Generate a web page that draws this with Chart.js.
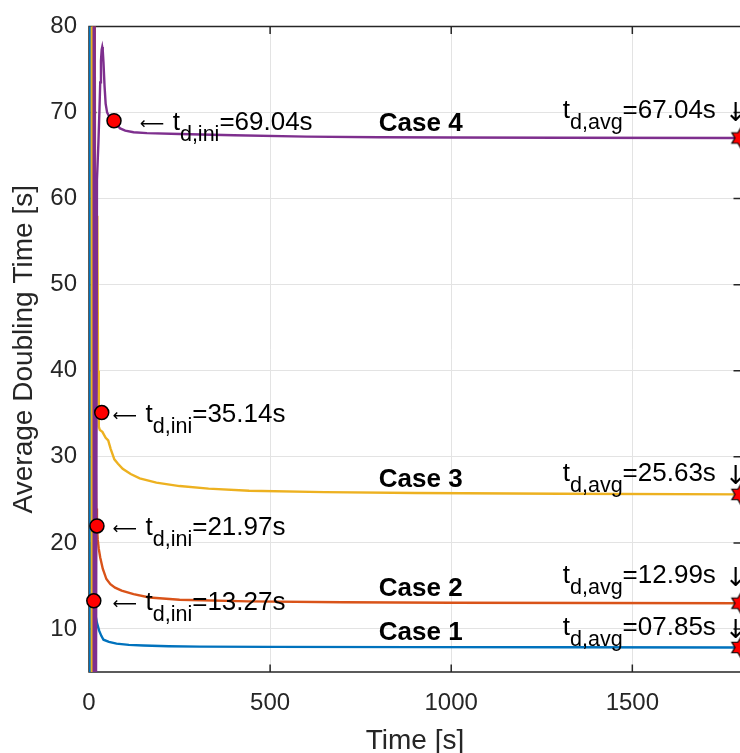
<!DOCTYPE html>
<html>
<head>
<meta charset="utf-8">
<script src="https://cdn.jsdelivr.net/npm/chart.js@4.4.1/dist/chart.umd.min.js"></script>
<style>
  html, body { margin: 0; padding: 0; background: #fff; overflow: hidden; }
  canvas { display: block; }
</style>
</head>
<body>
<canvas id="chart" width="750" height="753"></canvas>
<script>
// Doubling time results for the four cases
const caseNames = ['Case 1', 'Case 2', 'Case 3', 'Case 4'];
const tdIni = [13.27, 21.97, 35.14, 69.04];
const tdAvg = [7.85, 12.99, 25.63, 67.04];
const tEnd = 1800;

// running average of the doubling time, per case
const time1 = [0.5, 1.5, 2.5, 6, 10, 13.27, 17, 22, 28, 34, 40, 55, 76, 110, 150, 220, 305, 500, 900, 1300, 1800];
const case1 = [-50, 300, 20, 15.5, 14.2, 13.27, 11.8, 10.7, 9.8, 9.2, 8.75, 8.5, 8.3, 8.15, 8.08, 8.0, 7.95, 7.92, 7.89, 7.87, 7.85];

const time2 = [10, 11, 17, 20, 21.97, 24, 27, 31, 38, 48, 59, 72, 90, 123, 167, 250, 440, 700, 1000, 1400, 1800];
const case2 = [-50, 300, 35, 24, 21.97, 20.4, 19.3, 18.3, 17.0, 15.8, 15.2, 14.8, 14.45, 14.05, 13.65, 13.4, 13.2, 13.1, 13.05, 13.02, 12.99];

const time3 = [6, 8, 15, 23, 25, 27, 30, 37, 46, 53, 60, 70, 80, 93, 115, 140, 186, 250, 330, 442, 650, 900, 1300, 1800];
const case3 = [-50, 300, null, 58, 40, 33.5, 33.1, 32.9, 32.2, 31.9, 30.9, 29.7, 29.2, 28.6, 28.0, 27.5, 27.0, 26.6, 26.3, 26.05, 25.9, 25.8, 25.7, 25.63];

const time4 = [12, 13, 17, 22, 26, 29, 31, 33, 35, 36.5, 38, 40, 43, 46, 50, 55, 69.04, 78, 86, 100, 123, 160, 250, 400, 600, 800, 1000, 1300, 1800];
const case4 = [-50, 300, -50, 62.2, 66.5, 70.5, 73.5, 76.0, 77.3, 77.6, 77.2, 75.8, 73.0, 71.0, 70.0, 69.6, 69.04, 68.5, 68.15, 67.9, 67.7, 67.6, 67.5, 67.35, 67.2, 67.12, 67.09, 67.06, 67.04];

const xTicks = [0, 500, 1000, 1500];
const yTicks = [10, 20, 30, 40, 50, 60, 70, 80];

const colors = ['#0072BD', '#D95319', '#EDB120', '#7E2F8E'];
const FONT = "'Liberation Sans', Arial, Helvetica, sans-serif";
const ARROW_FONT = "'DejaVu Sans', sans-serif";

// where the text labels sit (data units)
const iniLabelT = [65, 65, 65, 140];
const avgLabelT = 1308;
const avgLabelY = [10.4, 16.37, 28.2, 70.44];
const caseLabelT = 800;
const caseLabelLift = 1.65;

function toPoints(xs, ys) {
    return xs.map((x, i) => ({ x: x, y: ys[i] }));
}

// six pointed star used for the end-of-run markers
function hexagram(r) {
    const c = document.createElement('canvas');
    const s = Math.ceil(r * 2 + 4);
    c.width = c.height = s;
    const g = c.getContext('2d');
    g.translate(s / 2, s / 2);
    g.beginPath();
    for (let k = 0; k < 12; k++) {
        const a = -Math.PI / 2 + k * Math.PI / 6;
        const rr = k % 2 ? r / Math.sqrt(3) : r;
        g.lineTo(rr * Math.cos(a), rr * Math.sin(a));
    }
    g.closePath();
    g.fillStyle = '#ff0000';
    g.fill();
    g.lineWidth = 1.2;
    g.strokeStyle = '#000';
    g.stroke();
    return c;
}

// text with a subscript part, vertically centred on y
function drawParts(ctx, x, y, parts) {
    const base = y + 9;
    ctx.textAlign = 'left';
    ctx.textBaseline = 'alphabetic';
    parts.forEach(p => {
        if (p.arrow) ctx.font = p.arrow + 'px ' + ARROW_FONT;
        else ctx.font = (p.sub ? '21.5px ' : '26px ') + FONT;
        x += p.gap || 0;
        ctx.fillText(p.text, x, (p.sub ? base + 11 : base) + (p.dy || 0));
        x += p.advance || ctx.measureText(p.text).width;
    });
}

const axisBox = {
    id: 'axisBox',
    beforeDatasetsDraw(chart) {
        const { ctx, chartArea: a, scales: { x, y } } = chart;
        const tick = 7.5;
        ctx.save();
        ctx.strokeStyle = '#262626';
        ctx.lineWidth = 1.5;
        ctx.beginPath();
        ctx.rect(a.left, a.top, a.right - a.left, a.bottom - a.top);
        xTicks.forEach(v => {
            const px = x.getPixelForValue(v);
            ctx.moveTo(px, a.bottom); ctx.lineTo(px, a.bottom - tick);
            ctx.moveTo(px, a.top); ctx.lineTo(px, a.top + tick);
        });
        yTicks.forEach(v => {
            const py = y.getPixelForValue(v);
            ctx.moveTo(a.left, py); ctx.lineTo(a.left + tick, py);
            ctx.moveTo(a.right, py); ctx.lineTo(a.right - tick, py);
        });
        ctx.stroke();
        ctx.restore();
    },
    afterDraw(chart) {
        const { ctx, scales: { x, y } } = chart;
        ctx.save();
        ctx.fillStyle = '#000';
        for (let i = 0; i < caseNames.length; i++) {
            drawParts(ctx, x.getPixelForValue(iniLabelT[i]), y.getPixelForValue(tdIni[i]), [
                { text: '\u27F5', arrow: 17, advance: 33, dy: -1 },
                { text: 't' },
                { text: 'd,ini', sub: true },
                { text: '=' + tdIni[i].toFixed(2) + 's' }
            ]);
            drawParts(ctx, x.getPixelForValue(avgLabelT), y.getPixelForValue(avgLabelY[i]), [
                { text: 't' },
                { text: 'd,avg', sub: true },
                { text: '=' + tdAvg[i].toFixed(2).padStart(5, '0') + 's' },
                { text: '\u2193', arrow: 26, dy: 3, gap: 9 }
            ]);
            ctx.font = 'bold 26px ' + FONT;
            ctx.textAlign = 'left';
            ctx.textBaseline = 'middle';
            ctx.fillText(caseNames[i], x.getPixelForValue(caseLabelT), y.getPixelForValue(tdAvg[i] + caseLabelLift));
        }
        ctx.restore();
    }
};

const lineSets = [case1, case2, case3, case4].map((vals, i) => ({
    label: caseNames[i],
    data: toPoints([time1, time2, time3, time4][i], vals),
    borderColor: colors[i],
    borderWidth: 2.4,
    pointRadius: 0,
    tension: 0,
    clip: 0,
    order: 4 - i + 1
}));

new Chart(document.getElementById('chart'), {
    type: 'line',
    data: {
        datasets: [
            {
                label: 'initial',
                data: tdIni.map(v => ({ x: v, y: v })),
                showLine: false,
                pointRadius: 7,
                pointBackgroundColor: '#ff0000',
                pointBorderColor: '#000',
                pointBorderWidth: 1.5,
                clip: false,
                order: 0
            },
            {
                label: 'average',
                data: tdAvg.map(v => ({ x: tEnd, y: v })),
                showLine: false,
                pointStyle: hexagram(10.5),
                clip: false,
                order: 0
            },
            ...lineSets
        ]
    },
    options: {
        responsive: false,
        animation: false,
        devicePixelRatio: 1,
        layout: { padding: { top: 22, right: 9, bottom: 0, left: 0 } },
        plugins: { legend: { display: false }, tooltip: { enabled: false } },
        scales: {
            x: {
                type: 'linear',
                min: 0,
                max: tEnd,
                afterBuildTicks: s => { s.ticks = xTicks.map(v => ({ value: v })); },
                afterFit: s => { s.height = 81; },
                grid: { color: '#e3e3e3', lineWidth: 1, drawTicks: false },
                border: { display: false },
                ticks: {
                    color: '#262626',
                    font: { family: FONT, size: 24 },
                    padding: 17,
                    maxRotation: 0,
                    callback: v => String(v)
                },
                title: {
                    display: true,
                    text: 'Time [s]',
                    color: '#262626',
                    font: { family: FONT, size: 28, lineHeight: 1 },
                    padding: { top: 0, bottom: -2 }
                }
            },
            y: {
                type: 'linear',
                min: 5,
                max: 80,
                afterBuildTicks: s => { s.ticks = yTicks.map(v => ({ value: v })); },
                afterFit: s => { s.width = 89; },
                grid: { color: '#e3e3e3', lineWidth: 1, drawTicks: false },
                border: { display: false },
                ticks: { color: '#262626', font: { family: FONT, size: 24 }, padding: 12 },
                title: {
                    display: true,
                    text: 'Average Doubling Time [s]',
                    color: '#262626',
                    font: { family: FONT, size: 28, lineHeight: 1 },
                    padding: { top: 10, bottom: 0 }
                }
            }
        }
    },
    plugins: [axisBox]
});
</script>
</body>
</html>
